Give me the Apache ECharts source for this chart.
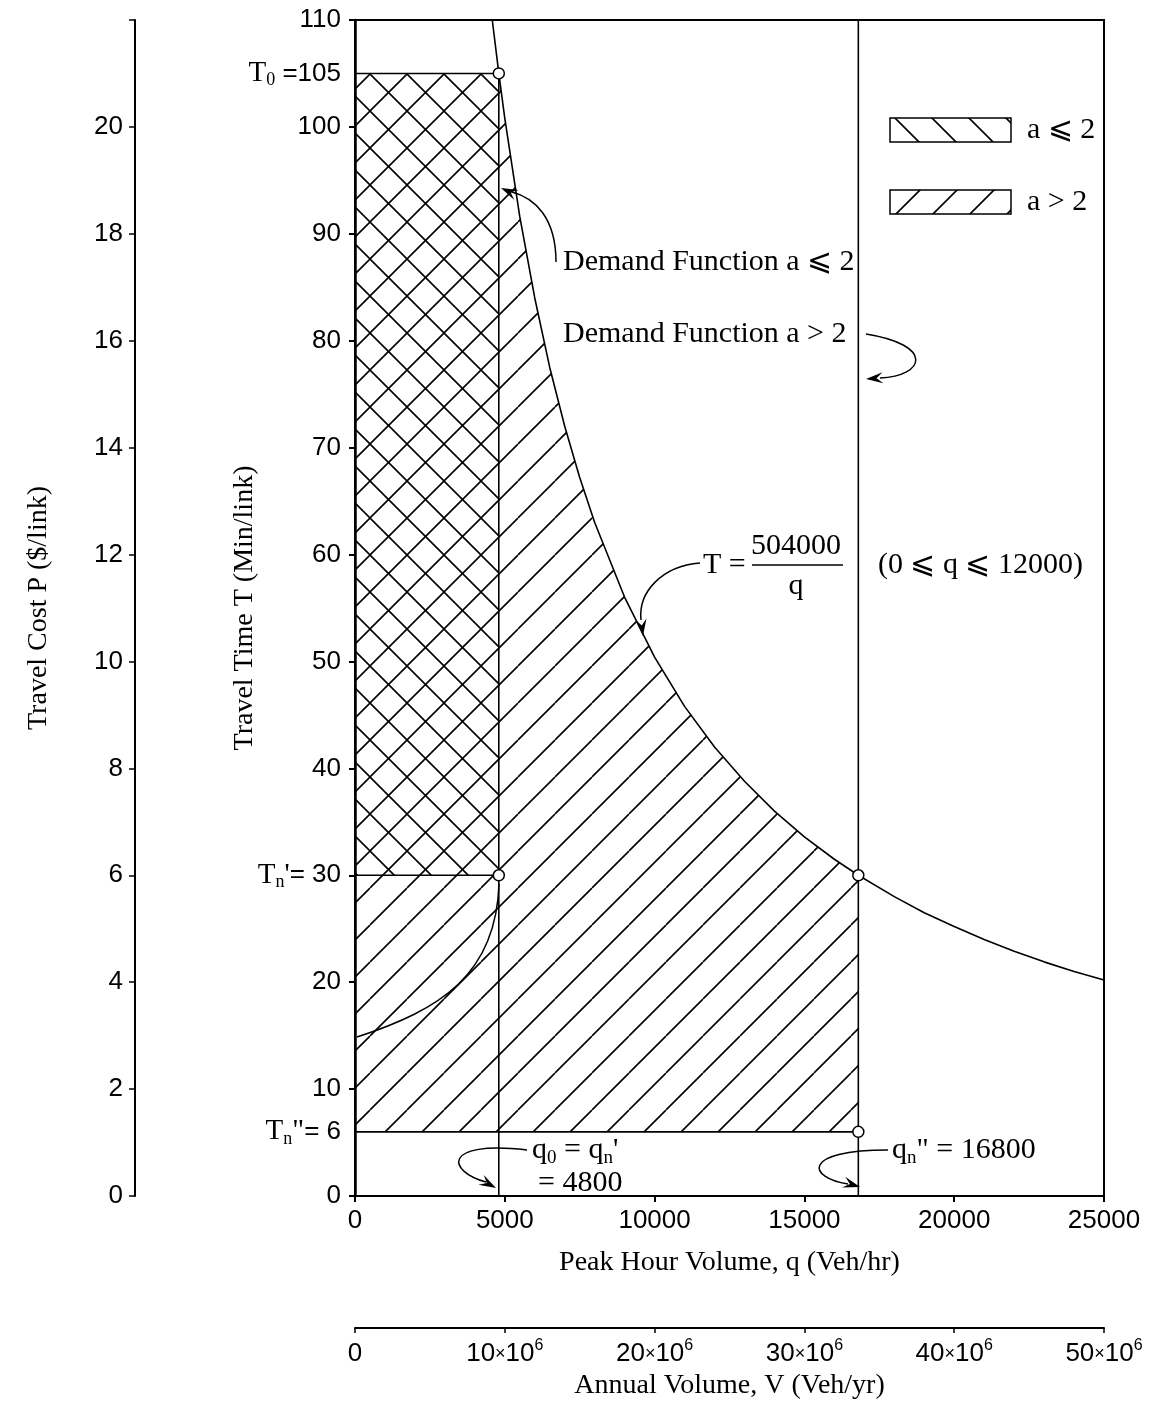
<!DOCTYPE html>
<html>
<head>
<meta charset="utf-8">
<script src="https://cdn.jsdelivr.net/npm/echarts@6/dist/echarts.min.js"></script>
<style>html,body{margin:0;padding:0;background:#fff;}#c{width:1154px;height:1414px;}</style>
</head>
<body>
<div id="c"></div>
<script>
// ---- data ----
const curveQ = [4582, 4800, 5000, 5500, 6000, 6500, 7000, 7500, 8000, 9000, 10000, 11000, 12000, 13000, 14000, 15000, 16000, 16800, 18000, 19000, 20000, 21000, 22000, 23000, 24000, 25000];
const curveT = [110, 105, 100.8, 91.6, 84, 77.5, 72, 67.2, 63, 56, 50.4, 45.8, 42, 38.8, 36, 33.6, 31.5, 30, 28, 26.5, 25.2, 24, 22.9, 21.9, 21, 20.2];
const q0 = 4800;        // q0 = qn'
const qn2 = 16800;      // qn''
const T0 = 105;
const Tn1 = 30;
const Tn2 = 6;
const tMax = 110;
const xTicks = [0, 5000, 10000, 15000, 20000, 25000];
const tTicks = [0, 10, 20, 30, 40, 50, 60, 70, 80, 90, 100, 110];
const tLabelVals = [0, 6, 10, 20, 30, 40, 50, 60, 70, 80, 90, 100, 105, 110];
const pTicks = [0, 2, 4, 6, 8, 10, 12, 14, 16, 18, 20, 22];
const vTicks = [0, 10e6, 20e6, 30e6, 40e6, 50e6];

const SANS = '"Liberation Sans", Arial, sans-serif';
const SERIF = '"Liberation Serif", "Times New Roman", serif';
const TF = 26;

function makeHatch(dir) {
  const s = 37;
  const c = document.createElement('canvas');
  c.width = s; c.height = s;
  const g = c.getContext('2d');
  g.strokeStyle = '#000'; g.lineWidth = 1.6;
  g.beginPath();
  for (const k of [-1, 0, 1]) {
    if (dir === '/') { g.moveTo(k * s, s); g.lineTo(k * s + s, 0); }
    else { g.moveTo(k * s, 0); g.lineTo(k * s + s, s); }
  }
  g.stroke();
  return c;
}
const patFwd = { image: makeHatch('/'), repeat: 'repeat' };
const patBack = { image: makeHatch('\\'), repeat: 'repeat' };

const curve = curveQ.map((q, i) => [q, curveT[i]]);
// region a > 2 : under demand curve, above Tn'', 0..qn''
const regionFwd = [[0, Tn2], [0, T0]].concat(curve.filter(p => p[0] >= q0 && p[0] <= qn2)).concat([[qn2, Tn2]]);
// region a <= 2 : rectangle
const regionBack = [[0, Tn1], [0, T0], [q0, T0], [q0, Tn1]];

function polySeries(region, pat) {
  return {
    type: 'custom', coordinateSystem: 'cartesian2d', xAxisIndex: 0, yAxisIndex: 0, z: 1,
    silent: true, data: [[0, 0]],
    renderItem: function (params, api) {
      return { type: 'polygon', shape: { points: region.map(p => api.coord(p)) }, style: { fill: pat, stroke: null } };
    }
  };
}
function seg(data, w) {
  return { type: 'line', xAxisIndex: 0, yAxisIndex: 0, data: data, symbol: 'none', z: 2, silent: true,
    lineStyle: { color: '#000', width: w || 1.5 } };
}

function arrowHead(tx, ty, dx, dy) {
  const L = 17, W = 11;
  const n = Math.hypot(dx, dy); const ux = dx / n, uy = dy / n; const px = -uy, py = ux;
  const bx = tx - ux * L, by = ty - uy * L;
  return { type: 'polygon', z: 10, shape: { points: [[tx, ty], [bx + px * W / 2, by + py * W / 2], [tx - ux * L * 0.62, ty - uy * L * 0.62], [bx - px * W / 2, by - py * W / 2]] }, style: { fill: '#000' } };
}
function bez(p0, c1, c2, p3) {
  return { type: 'bezierCurve', z: 10, shape: { x1: p0[0], y1: p0[1], cpx1: c1[0], cpy1: c1[1], cpx2: c2[0], cpy2: c2[1], x2: p3[0], y2: p3[1] }, style: { stroke: '#000', lineWidth: 1.5, fill: null } };
}
const AF = 30;
const richA = {
  s: { fontFamily: SERIF, fontSize: AF, lineHeight: 36, color: '#000' },
  sub: { fontFamily: SERIF, fontSize: 19, lineHeight: 19, verticalAlign: 'bottom', color: '#000' }
};
function txt(x, y, text, opt) {
  return Object.assign({ type: 'text', z: 10, x: x, y: y,
    style: Object.assign({ text: text, font: AF + 'px ' + SERIF, fill: '#000', textAlign: 'left', textVerticalAlign: 'middle' }, opt || {}) });
}

const chart = echarts.init(document.getElementById('c'), null, { renderer: 'canvas' });
const option = {
  backgroundColor: '#fff',
  animation: false,
  grid: { left: 355, top: 20, width: 749, height: 1176, show: true, borderColor: '#000', borderWidth: 2, backgroundColor: 'transparent' },
  xAxis: [
    { type: 'value', position: 'bottom', min: 0, max: 25000, interval: 5000,
      axisLine: { onZero: false, lineStyle: { color: '#000', width: 2 } },
      axisTick: { length: 6, lineStyle: { color: '#000', width: 2 } },
      axisLabel: { color: '#000', fontFamily: SANS, fontSize: TF, margin: 12, formatter: v => String(v) },
      splitLine: { show: false },
      name: 'Peak Hour Volume, q (Veh/hr)', nameLocation: 'middle', nameGap: 53, nameMoveOverlap: false,
      nameTextStyle: { color: '#000', fontFamily: SERIF, fontSize: 28 } },
    { type: 'value', position: 'bottom', offset: 132, min: 0, max: 50e6, interval: 10e6,
      axisLine: { onZero: false, lineStyle: { color: '#000', width: 2 } },
      axisTick: { length: 5, lineStyle: { color: '#000', width: 1.5 } },
      axisLabel: { color: '#000', margin: 10,
        formatter: v => v === 0 ? '{n|0}' : '{n|' + (v / 1e6) + '}{x|×}{n|10}{sup|6}',
        rich: {
          n: { fontFamily: SANS, fontSize: TF, lineHeight: 32, color: '#000' },
          x: { fontFamily: SANS, fontSize: 18, lineHeight: 32, color: '#000' },
          sup: { fontFamily: SANS, fontSize: 16, lineHeight: 16, verticalAlign: 'top', color: '#000' }
        } },
      splitLine: { show: false },
      name: 'Annual Volume, V (Veh/yr)', nameLocation: 'middle', nameGap: 44, nameMoveOverlap: false,
      nameTextStyle: { color: '#000', fontFamily: SERIF, fontSize: 28 } }
  ],
  yAxis: [
    { type: 'value', position: 'left', min: 0, max: tMax, interval: 10,
      axisLine: { onZero: false, lineStyle: { color: '#000', width: 2.5 } },
      axisTick: { length: 6, customValues: tTicks, lineStyle: { color: '#000', width: 2 } },
      axisLabel: { color: '#000', margin: 14, customValues: tLabelVals,
        formatter: function (v) {
          if (v === T0) return '{s|T}{sub|0}{n| =' + v + '}';
          if (v === Tn1) return '{s|T}{sub|n}{s|\'}{n|= ' + v + '}';
          if (v === Tn2) return '{s|T}{sub|n}{s|"}{n|= ' + v + '}';
          return '{n|' + v + '}';
        },
        rich: {
          n: { fontFamily: SANS, fontSize: TF, lineHeight: 32, color: '#000' },
          s: { fontFamily: SERIF, fontSize: 29, lineHeight: 32, color: '#000' },
          sub: { fontFamily: SERIF, fontSize: 18, lineHeight: 18, verticalAlign: 'bottom', color: '#000' }
        } },
      splitLine: { show: false },
      name: 'Travel Time T (Min/link)', nameLocation: 'middle', nameGap: 96, nameRotate: 90, nameMoveOverlap: false,
      nameTextStyle: { color: '#000', fontFamily: SERIF, fontSize: 28 } },
    { type: 'value', position: 'left', offset: 220, min: 0, max: 22, interval: 2,
      axisLine: { onZero: false, lineStyle: { color: '#000', width: 2 } },
      axisTick: { length: 6, lineStyle: { color: '#000', width: 1.5 } },
      axisLabel: { color: '#000', fontFamily: SANS, fontSize: TF, margin: 12,
        formatter: v => v === 22 ? '' : String(v) },
      splitLine: { show: false },
      name: 'Travel Cost P ($/link)', nameLocation: 'middle', nameGap: 82, nameRotate: 90, nameMoveOverlap: false,
      nameTextStyle: { color: '#000', fontFamily: SERIF, fontSize: 28 } }
  ],
  series: [
    polySeries(regionFwd, patFwd),
    polySeries(regionBack, patBack),
    seg(curve, 1.6),
    seg([[q0, 0], [q0, T0]], 1.6),
    seg([[qn2, 0], [qn2, tMax]], 1.6),
    seg([[0, T0], [q0, T0]], 1.6),
    seg([[0, Tn1], [q0, Tn1]], 1.6),
    seg([[0, Tn2], [qn2, Tn2]], 1.6),
    { type: 'scatter', xAxisIndex: 0, yAxisIndex: 0, z: 5, silent: true,
      data: [[q0, T0], [q0, Tn1], [qn2, Tn1], [qn2, Tn2]],
      symbol: 'circle', symbolSize: 11,
      itemStyle: { color: '#fff', borderColor: '#000', borderWidth: 1.5, opacity: 1 } }
  ],
  graphic: [
    // legend
    { type: 'rect', z: 10, shape: { x: 890, y: 118, width: 121, height: 24 }, style: { fill: patBack, stroke: '#000', lineWidth: 1.5 } },
    { type: 'rect', z: 10, shape: { x: 890, y: 190, width: 121, height: 24 }, style: { fill: patFwd, stroke: '#000', lineWidth: 1.5 } },
    txt(1027, 130, 'a ⩽ 2'),
    txt(1027, 202, 'a > 2'),
    // demand function notes
    txt(563, 262, 'Demand Function a ⩽ 2'),
    txt(563, 334, 'Demand Function a > 2'),
    bez([556, 262], [556, 218], [535, 198], [512, 192]),
    arrowHead(501, 188, -1, -0.45),
    bez([866, 334], [935, 345], [925, 376], [880, 378]),
    arrowHead(866, 379, -1, 0.08),
    // formula
    txt(703, 565, 'T ='),
    txt(796, 546, '504000', { textAlign: 'center' }),
    { type: 'line', z: 10, shape: { x1: 752, y1: 565, x2: 843, y2: 565 }, style: { stroke: '#000', lineWidth: 1.5 } },
    txt(796, 586, 'q', { textAlign: 'center' }),
    txt(878, 565, '(0 ⩽ q ⩽ 12000)'),
    bez([700, 563], [662, 566], [638, 592], [641, 620]),
    arrowHead(643, 636, 0.12, 1),
    // curve from Tn' point down to axis
    bez([499, 884], [496, 975], [440, 1010], [357, 1037]),
    // q0 notes
    { type: 'text', z: 10, x: 532, y: 1150, style: { text: '{s|q}{sub|0}{s| = q}{sub|n}{s|\'}', rich: richA, textAlign: 'left', textVerticalAlign: 'middle' } },
    txt(538, 1183, '= 4800'),
    bez([527, 1150], [440, 1140], [448, 1172], [486, 1182]),
    arrowHead(496, 1188, 1, 0.55),
    { type: 'text', z: 10, x: 892, y: 1150, style: { text: '{s|q}{sub|n}{s|" = 16800}', rich: richA, textAlign: 'left', textVerticalAlign: 'middle' } },
    bez([888, 1150], [800, 1150], [808, 1178], [848, 1184]),
    arrowHead(860, 1187, 1, 0.3)
  ]
};
chart.setOption(option);
</script>
</body>
</html>
